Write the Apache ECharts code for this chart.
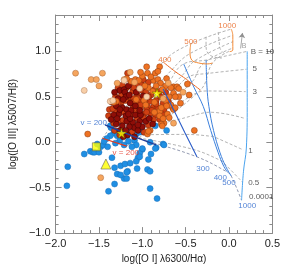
<!DOCTYPE html>
<html><head><meta charset="utf-8">
<script src="https://cdn.jsdelivr.net/npm/echarts/dist/echarts.min.js"></script>
<style>html,body{margin:0;padding:0;background:#fff}#c{width:283px;height:269px}</style>
</head><body><div id="c"></div><script>
// ---- observed points ----
const darkRed = [[-1.26,0.57],[-1.21,0.58],[-1.20,0.55],[-1.19,0.50],[-1.14,0.43],[-1.23,0.38],[-1.18,0.36],[-1.27,0.31],[-1.19,0.29],[-1.18,0.23],[-1.11,0.22],[-1.03,0.23],[-0.96,0.23],[-1.23,0.18],[-1.09,0.16],[-1.30,0.40],[-1.28,0.48],[-1.15,0.52],[-1.13,0.35],[-1.08,0.30],[-1.14,0.26],[-1.30,0.20],[-1.26,0.13],[-1.20,0.12],[-1.15,0.17],[-1.05,0.13],[-1.00,0.17],[-1.33,0.30],[-1.36,0.25],[-1.02,0.30],[-1.08,0.40],[-0.92,0.26],[-0.88,0.20],[-1.16,0.62],[-0.99,0.51],[-1.32,0.55],[-1.17,0.08],[-1.09,0.06],[-1.22,0.06],[-1.35,0.44],[-1.22,0.47],[-1.26,0.36],[-1.16,0.31],[-1.03,0.35],[-1.05,0.19],[-1.29,0.26],[-1.07,0.55],[-1.19,0.13]];
const redOrange = [[-1.11,0.56],[-1.00,0.57],[-0.91,0.45],[-0.84,0.46],[-1.02,0.38],[-0.94,0.39],[-0.87,0.39],[-0.82,0.38],[-1.12,0.31],[-1.05,0.32],[-0.98,0.31],[-0.91,0.32],[-1.11,0.37],[-1.06,0.52],[-0.96,0.55],[-0.90,0.52],[-0.86,0.58],[-0.79,0.50],[-0.76,0.43],[-0.85,0.30],[-0.80,0.25],[-0.97,0.45],[-1.15,0.46],[-1.24,0.44],[-1.31,0.34],[-1.38,0.36],[-1.39,0.29],[-1.01,0.64],[-1.07,0.63],[-1.13,0.66],[-0.93,0.66],[-0.75,0.36],[-0.70,0.45],[-0.87,0.25],[-0.93,0.19],[-1.27,0.24],[-1.32,0.13],[-0.80,0.56],[-0.73,0.55],[-1.17,0.49],[-1.04,0.48],[-0.95,0.36],[-0.89,0.35],[-0.84,0.42],[-0.93,0.50],[-0.76,0.30],[-0.97,0.25],[-1.28,0.43],[-0.99,0.69],[-1.17,0.76],[-1.18,0.60],[-1.19,0.46],[-1.24,0.52],[-1.10,0.48],[-1.06,0.26],[-1.22,0.24],[-1.12,0.11],[-0.98,0.11],[-1.34,0.37],[-0.95,0.33],[-1.04,0.44],[-1.10,0.60],[-1.28,0.60],[-1.31,0.50],[-1.11,0.44],[-1.21,0.33],[-1.09,0.35],[-0.99,0.27],[-1.14,0.21],[-1.33,0.21],[-1.02,0.41],[-1.23,0.63],[-1.26,0.08]];
const orangeObs = [[-0.94,0.76],[-1.13,0.67],[-1.08,0.69],[-1.04,0.68],[-0.87,0.68],[-0.82,0.69],[-0.79,0.65],[-0.73,0.62],[-0.64,0.61],[-0.60,0.61],[-0.80,0.83],[-0.48,0.64],[-0.58,0.59],[-0.64,0.54],[-0.65,0.38],[-0.80,0.34],[-0.75,0.21],[-0.46,0.52],[-0.40,0.13],[-0.64,0.36],[-0.71,0.31],[-0.78,0.20],[-0.91,0.13],[-0.94,0.09],[-0.77,0.18],[-0.93,0.12],[-0.67,0.41],[-0.62,0.38],[-0.73,0.46],[-1.07,0.47],[-0.98,0.46],[-0.93,0.60],[-1.30,0.45],[-0.80,0.29],[-1.33,0.44],[-1.63,0.09],[-0.90,0.72],[-0.84,0.62],[-0.77,0.58],[-0.69,0.50],[-0.88,0.56],[-0.97,0.62],[-1.00,0.73],[-0.85,0.76],[-0.72,0.70],[-0.56,0.43],[-0.58,0.50],[-0.69,0.27],[-0.86,0.44],[-1.18,0.70],[-0.96,0.41],[-0.86,0.33],[-0.78,0.38],[-0.72,0.40],[-0.76,0.26],[-1.02,0.77],[-0.95,0.83],[-0.82,0.78],[-0.67,0.60],[-0.62,0.50]];
const lightOrange = [[-1.77,0.76],[-1.59,0.69],[-1.53,0.69],[-1.50,0.62],[-1.46,0.76],[-1.21,0.69],[-1.09,0.66],[-0.76,0.48],[-0.64,0.21],[-1.48,-0.39],[-1.14,0.77],[-0.70,0.65],[-1.29,0.65],[-0.53,0.55]];
const paleObs = [[-1.67,0.57],[-1.37,0.45],[-1.03,0.59],[-1.34,0.46],[-0.95,0.50],[-1.21,0.68]];
const blueObs = [[-1.86,-0.27],[-1.87,-0.48],[-1.67,-0.13],[-1.60,-0.10],[-1.57,-0.11],[-1.48,-0.05],[-1.45,-0.03],[-1.40,-0.05],[-1.55,-0.11],[-1.50,-0.11],[-1.35,-0.17],[-1.25,-0.26],[-1.20,-0.24],[-1.29,-0.35],[-1.17,-0.32],[-1.21,-0.40],[-1.32,-0.46],[-1.39,-0.54],[-0.85,0.18],[-0.72,0.13],[-0.91,0.00],[-0.76,-0.02],[-1.09,0.02],[-1.07,-0.03],[-1.00,-0.08],[-1.03,-0.12],[-0.90,-0.13],[-1.05,-0.17],[-1.07,-0.21],[-1.14,-0.23],[-1.32,-0.28],[-1.18,-0.33],[-1.06,-0.29],[-0.94,-0.30],[-0.91,-0.32],[-1.25,-0.36],[-1.18,-0.40],[-0.91,-0.51],[-0.83,-0.62],[-1.21,-0.03],[-0.84,-0.06],[-0.75,-0.03],[-0.93,-0.19],[-1.30,0.23],[-1.25,0.22],[-1.36,0.16],[-1.33,0.10],[-1.29,0.07],[-1.37,0.07],[-1.41,0.04],[-1.18,0.07],[-1.14,0.12],[-1.07,0.09],[-1.01,0.17],[-1.03,0.11],[-1.00,-0.07],[-0.85,-0.07],[-1.03,-0.16],[-1.37,0.18],[-1.44,0.01],[-1.52,-0.02],[-1.26,0.02],[-1.16,0.01],[-1.12,-0.05],[-1.31,-0.01]];
const yellowStars = [[-1.24,0.10],[-0.83,0.54]];
const yellowSquare = [[-1.53,-0.05]];
const yellowTriangle = [[-1.42,-0.24]];

// ---- shock-only model grid (velocity lines, solid blue) ----
const shockV200 = [[-1.43,0.19],[-1.30,0.14],[-1.21,0.105],[-0.98,0.02],[-0.84,-0.03]];
const shockV300 = [[-0.76,0.585],[-0.64,0.36],[-0.51,0.106],[-0.37,-0.16]];
const shockV400 = [[-0.523,0.862],[-0.405,0.606],[-0.297,0.394],[-0.21,0.128],[-0.124,-0.117],[-0.06,-0.266],[-0.016,-0.33]];
const shockV500 = [[-0.264,0.904],[-0.254,0.606],[-0.232,0.394],[-0.178,0.128],[-0.103,-0.117],[-0.038,-0.266],[0.026,-0.372]];
const shockV1000 = [[0.21,1.0],[0.21,0.394],[0.20,-0.064],[0.167,-0.319],[0.145,-0.638]];
// shock-only magnetic-parameter lines (dashed grey)
const shockB10 = [[-1.397,0.181],[-0.761,0.585],[-0.524,0.862],[-0.265,0.904],[0.209,1.0]];
const shockB5 = [[-1.349,0.163],[-0.714,0.496],[-0.459,0.723],[-0.260,0.755],[0.202,0.803]];
const shockB3 = [[-1.289,0.140],[-0.656,0.384],[-0.373,0.543],[-0.254,0.564],[0.192,0.557]];
const shockB2 = [[-1.217,0.114],[-0.586,0.25],[-0.276,0.326],[-0.220,0.330],[0.180,0.263]];
const shockB1 = [[-1.129,0.081],[-0.501,0.086],[-0.190,0.064],[-0.157,0.053],[0.166,-0.085]];
const shockB05 = [[-1.042,0.048],[-0.416,-0.078],[-0.093,-0.202],[-0.054,-0.234],[0.152,-0.436]];
const shockB0 = [[-1.20,0.10],[-0.998,0.032],[-0.373,-0.160],[-0.017,-0.330],[0.026,-0.372],[0.144,-0.638]];

// ---- shock + precursor grid (velocity lines, solid orange) ----
const precV200 = [[-1.461,0.043],[-1.181,-0.043]];
const precV400 = [[-0.76,0.883],[-0.62,0.777],[-0.49,0.691],[-0.33,0.574]];
const precV500 = [[-0.44,1.085],[-0.45,1.0],[-0.43,0.904],[-0.35,0.872],[-0.244,0.862],[-0.19,0.872]];
const precV1000 = [[0.026,1.245],[0.044,1.174],[0.044,1.014],[0.008,0.997]];
const precV700 = [[-0.265,1.160],[-0.265,1.064],[-0.243,0.979],[-0.168,0.936],[-0.082,0.926]];
const precV850 = [[-0.125,1.213],[-0.114,1.117],[-0.103,1.032],[-0.060,0.979]];
const precBa = [[-1.461,0.043],[-0.761,0.883],[-0.437,1.085],[0.026,1.245]];
const precBb = [[-1.391,0.021],[-0.655,0.802],[-0.444,0.979],[0.045,1.178]];
const precBc = [[-1.321,0.0],[-0.546,0.728],[-0.399,0.893],[0.047,1.107]];
const precBd = [[-1.251,-0.021],[-0.437,0.652],[-0.296,0.867],[0.047,1.037]];
const precBe = [[-1.181,-0.043],[-0.330,0.574],[-0.190,0.872],[0.0,1.0]];
const bArrow = [[0.134,1.032],[0.155,1.202]];

// ---- annotation texts ----
const greyLabels = [{name:'B = 10',value:[0.25,1.0]},{name:'5',value:[0.27,0.81]},{name:'3',value:[0.27,0.56]},{name:'1',value:[0.22,-0.09]},{name:'0.5',value:[0.22,-0.45]},{name:'0.0001',value:[0.23,-0.60]}];
const blueLabels = [{name:'1000',value:[0.21,-0.695]},{name:'500',value:[0.0,-0.45]},{name:'400',value:[-0.10,-0.39]},{name:'300',value:[-0.30,-0.29]},{name:'v = 200',value:[-1.56,0.21]}];
const orangeLabels = [{name:'400',value:[-0.74,0.91]},{name:'500',value:[-0.44,1.10]},{name:'1000',value:[-0.02,1.28]}];
const redLabels = [{name:'v = 200',value:[-1.19,-0.12]}];
const arrowLabel = [{name:'B',value:[0.175,1.06]}];

const FONT = 'Liberation Sans, Arial, sans-serif';
const AX = '#8a8a8a';
function fmt(v){ if (Math.abs(v*2-Math.round(v*2))>1e-6) return ''; return v.toFixed(1).replace('-', '\u2212'); }
function axisBase(extra){
  return Object.assign({
    type:'value', axisLine:{show:true,onZero:false,lineStyle:{color:AX,width:1}},
    axisTick:{show:true,inside:true,length:6,lineStyle:{color:AX}},
    minorTick:{show:true,splitNumber:5,length:3,lineStyle:{color:AX}},
    splitLine:{show:false}, minorSplitLine:{show:false}
  }, extra);
}
function line(data,color,width,dashed,z,smooth){
  return {type:'line',data:data,symbol:'none',silent:true,z:z,smooth:smooth?0.4:false,
    lineStyle:{color:color,width:width,type:dashed?[3,2]:'solid'}};
}
function textSeries(data,color,pos,size){
  return {type:'scatter',data:data,symbol:'circle',symbolSize:0.1,z:10,silent:true,
    itemStyle:{color:'rgba(0,0,0,0)'},
    label:{show:true,formatter:'{b}',position:pos,distance:0,color:color,fontSize:size||8,fontFamily:FONT}};
}
function dots(data,color,border,size,z){
  return {type:'scatter',data:data,symbol:'circle',symbolSize:size||6,z:z||5,silent:true,
    itemStyle:{color:color,borderColor:border,borderWidth:0.5,opacity:1}};
}
const GREY='#a0a0a0';
const chart = echarts.init(document.getElementById('c'),null,{renderer:'canvas'});
chart.setOption({
  animation:false,
  grid:{left:42,right:9,top:15,bottom:28},
  xAxis:[
    axisBase({min:-2,max:0.5,interval:0.5,position:'bottom',
      axisLabel:{color:'#222',fontSize:11,fontFamily:FONT,margin:5,formatter:fmt},
      name:'log([O I] \u03bb6300/H\u03b1)',nameLocation:'middle',nameGap:17,
      nameTextStyle:{color:'#222',fontSize:10,fontFamily:FONT}}),
    axisBase({min:-2,max:0.5,interval:0.5,position:'top',axisLabel:{show:false}})
  ],
  yAxis:[
    axisBase({min:-1,max:1.4,interval:0.5,position:'left',
      axisLabel:{color:'#222',fontSize:11,fontFamily:FONT,margin:5,formatter:fmt,showMaxLabel:false},
      name:'log([O III] \u03bb5007/H\u03b2)',nameLocation:'middle',nameGap:28,
      nameTextStyle:{color:'#222',fontSize:10,fontFamily:FONT}}),
    axisBase({min:-1,max:1.4,interval:0.5,position:'right',axisLabel:{show:false}})
  ],
  series:[
    line(shockB10,GREY,0.8,true,1,true), line(shockB5,GREY,0.8,true,1,true), line(shockB3,GREY,0.8,true,1,true),
    line(shockB2,GREY,0.8,true,1,true),
    line(shockB1,GREY,0.8,true,1,true), line(shockB05,GREY,0.8,true,1,true), line(shockB0,'#8890a8',0.9,true,1,true),
    line(precBa,GREY,0.8,true,1,true), line(precBb,GREY,0.8,true,1,true), line(precBc,GREY,0.8,true,1,true),
    line(precBd,GREY,0.8,true,1,true), line(precBe,GREY,0.8,true,1,true),
    line(precV700,GREY,0.8,true,1,true), line(precV850,GREY,0.8,true,1,true),
    {type:'line',data:[],symbol:'none',silent:true,z:2,
      markLine:{silent:true,symbol:['none','arrow'],symbolSize:5,label:{show:false},
        lineStyle:{color:'#909090',width:0.8,type:'solid'},
        data:[[{coord:bArrow[0]},{coord:bArrow[1]}]]}},
    dots(blueObs,'#1f8fe3','#1a6fb8',6,4),
    dots(redOrange,'#cf3f12','#6a1a05',6,5),
    dots(darkRed,'#8e0e08','#3a0000',6,5),
    dots(orangeObs,'#ee7222','#8a3a10',6,5),
    dots(lightOrange,'#f5a55e','#a8683a',6,5),
    dots(paleObs,'#f8cfa8','#b08060',6,5),
    line(shockV200,'#1f3f9a',1.4,false,6,true),
    line(shockV300,'#2a5cc8',1.1,false,6,false),
    line(shockV400,'#3a7fdc',1.0,false,6,true),
    line(shockV500,'#3a7fdc',1.0,false,6,true),
    line(shockV1000,'#4aa3ee',1.0,false,6,true),
    line(precV200,'#e03a20',1.1,false,6,false),
    line(precV400,'#ee6a22',1.0,false,6,true),
    line(precV500,'#f38a35',1.0,false,6,true),
    line(precV1000,'#f38a35',1.0,false,6,true),
    {type:'scatter',data:yellowStars,symbol:'path://M50,0 L61,35 L98,35 L68,57 L79,91 L50,70 L21,91 L32,57 L2,35 L39,35 Z',
      symbolSize:10,z:8,silent:true,itemStyle:{color:'#ffff00',borderColor:'#6a6a00',borderWidth:0.6}},
    {type:'scatter',data:yellowSquare,symbol:'rect',symbolSize:8,z:8,silent:true,itemStyle:{color:'#ffff00',borderColor:'#555',borderWidth:0.7}},
    {type:'scatter',data:yellowTriangle,symbol:'triangle',symbolSize:10,z:8,silent:true,itemStyle:{color:'#ffff00',borderColor:'#555',borderWidth:0.7}},
    textSeries(greyLabels,'#333','right',8),
    textSeries(blueLabels,'#2a66cc','inside',8),
    textSeries(orangeLabels,'#e8641e','inside',8),
    textSeries(redLabels,'#e03020','inside',8),
    textSeries(arrowLabel,'#888','inside',7)
  ]
});
</script></body></html>
